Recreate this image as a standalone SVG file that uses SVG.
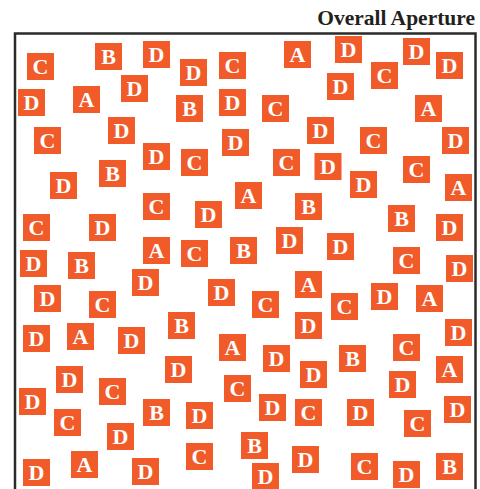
<svg xmlns="http://www.w3.org/2000/svg" width="480" height="489" viewBox="0 0 480 489">
<style>
.s rect{fill:#F15A29;width:27px;height:27px}
.s text{fill:#fff;font-family:"Liberation Serif","Times New Roman",serif;font-weight:bold;font-size:22px;text-anchor:middle}
.title{fill:#231F20;font-family:"Liberation Serif","Times New Roman",serif;font-weight:bold;font-size:21.5px;text-anchor:end}
</style>
<text class="title" x="475" y="25">Overall Aperture</text>
<path d="M15,489V33.5H475.5V489" fill="none" stroke="#2B2B2B" stroke-width="2.5"/>
<g class="s">
<g id="n1" transform="translate(27,53)"><rect width="27" height="27"/><text x="13.5" y="21">C</text></g>
<g id="n2" transform="translate(95,43)"><rect width="27" height="27"/><text x="13.5" y="21">B</text></g>
<g id="n3" transform="translate(143,41)"><rect width="27" height="27"/><text x="13.5" y="21">D</text></g>
<g id="n4" transform="translate(18,89)"><rect width="27" height="27"/><text x="13.5" y="21">D</text></g>
<g id="n5" transform="translate(73,86)"><rect width="27" height="27"/><text x="13.5" y="21">A</text></g>
<g id="n6" transform="translate(121,75)"><rect width="27" height="27"/><text x="13.5" y="21">D</text></g>
<g id="n7" transform="translate(108,117)"><rect width="27" height="27"/><text x="13.5" y="21">D</text></g>
<g id="n8" transform="translate(180,59)"><rect width="27" height="27"/><text x="13.5" y="21">D</text></g>
<g id="n9" transform="translate(219,52)"><rect width="27" height="27"/><text x="13.5" y="21">C</text></g>
<g id="n10" transform="translate(284,41)"><rect width="27" height="27"/><text x="13.5" y="21">A</text></g>
<g id="n11" transform="translate(176,95)"><rect width="27" height="27"/><text x="13.5" y="21">B</text></g>
<g id="n12" transform="translate(219,89)"><rect width="27" height="27"/><text x="13.5" y="21">D</text></g>
<g id="n13" transform="translate(262,95)"><rect width="27" height="27"/><text x="13.5" y="21">C</text></g>
<g id="n14" transform="translate(307,117)"><rect width="27" height="27"/><text x="13.5" y="21">D</text></g>
<g id="n15" transform="translate(335,36)"><rect width="27" height="27"/><text x="13.5" y="21">D</text></g>
<g id="n16" transform="translate(403,38)"><rect width="27" height="27"/><text x="13.5" y="21">D</text></g>
<g id="n17" transform="translate(436,52)"><rect width="27" height="27"/><text x="13.5" y="21">D</text></g>
<g id="n18" transform="translate(371,62)"><rect width="27" height="27"/><text x="13.5" y="21">C</text></g>
<g id="n19" transform="translate(327,73)"><rect width="27" height="27"/><text x="13.5" y="21">D</text></g>
<g id="n20" transform="translate(415,95)"><rect width="27" height="27"/><text x="13.5" y="21">A</text></g>
<g id="n21" transform="translate(34,127)"><rect width="27" height="27"/><text x="13.5" y="21">C</text></g>
<g id="n22" transform="translate(143,143)"><rect width="27" height="27"/><text x="13.5" y="21">D</text></g>
<g id="n23" transform="translate(50,172)"><rect width="27" height="27"/><text x="13.5" y="21">D</text></g>
<g id="n24" transform="translate(99,160)"><rect width="27" height="27"/><text x="13.5" y="21">B</text></g>
<g id="n25" transform="translate(143,193)"><rect width="27" height="27"/><text x="13.5" y="21">C</text></g>
<g id="n26" transform="translate(23,214)"><rect width="27" height="27"/><text x="13.5" y="21">C</text></g>
<g id="n27" transform="translate(89,214)"><rect width="27" height="27"/><text x="13.5" y="21">D</text></g>
<g id="n28" transform="translate(143,237)"><rect width="27" height="27"/><text x="13.5" y="21">A</text></g>
<g id="n29" transform="translate(222,129)"><rect width="27" height="27"/><text x="13.5" y="21">D</text></g>
<g id="n30" transform="translate(181,149)"><rect width="27" height="27"/><text x="13.5" y="21">C</text></g>
<g id="n31" transform="translate(273,149)"><rect width="27" height="27"/><text x="13.5" y="21">C</text></g>
<g id="n32" transform="translate(314.5,153)"><rect width="27" height="27"/><text x="13.5" y="21">D</text></g>
<g id="n33" transform="translate(235,182)"><rect width="27" height="27"/><text x="13.5" y="21">A</text></g>
<g id="n34" transform="translate(295,193)"><rect width="27" height="27"/><text x="13.5" y="21">B</text></g>
<g id="n35" transform="translate(195,201)"><rect width="27" height="27"/><text x="13.5" y="21">D</text></g>
<g id="n36" transform="translate(181,240)"><rect width="27" height="27"/><text x="13.5" y="21">C</text></g>
<g id="n37" transform="translate(230,237)"><rect width="27" height="27"/><text x="13.5" y="21">B</text></g>
<g id="n38" transform="translate(276,227)"><rect width="27" height="27"/><text x="13.5" y="21">D</text></g>
<g id="n39" transform="translate(360,127)"><rect width="27" height="27"/><text x="13.5" y="21">C</text></g>
<g id="n40" transform="translate(442,127)"><rect width="27" height="27"/><text x="13.5" y="21">D</text></g>
<g id="n41" transform="translate(403,156)"><rect width="27" height="27"/><text x="13.5" y="21">C</text></g>
<g id="n42" transform="translate(350,171)"><rect width="27" height="27"/><text x="13.5" y="21">D</text></g>
<g id="n43" transform="translate(445,174)"><rect width="27" height="27"/><text x="13.5" y="21">A</text></g>
<g id="n44" transform="translate(388,205)"><rect width="27" height="27"/><text x="13.5" y="21">B</text></g>
<g id="n45" transform="translate(436,214)"><rect width="27" height="27"/><text x="13.5" y="21">D</text></g>
<g id="n46" transform="translate(327,233)"><rect width="27" height="27"/><text x="13.5" y="21">D</text></g>
<g id="n47" transform="translate(20,250)"><rect width="27" height="27"/><text x="13.5" y="21">D</text></g>
<g id="n48" transform="translate(68,252)"><rect width="27" height="27"/><text x="13.5" y="21">B</text></g>
<g id="n49" transform="translate(132,269)"><rect width="27" height="27"/><text x="13.5" y="21">D</text></g>
<g id="n50" transform="translate(34,285)"><rect width="27" height="27"/><text x="13.5" y="21">D</text></g>
<g id="n51" transform="translate(89,291)"><rect width="27" height="27"/><text x="13.5" y="21">C</text></g>
<g id="n52" transform="translate(23,325)"><rect width="27" height="27"/><text x="13.5" y="21">D</text></g>
<g id="n53" transform="translate(67,323)"><rect width="27" height="27"/><text x="13.5" y="21">A</text></g>
<g id="n54" transform="translate(118,327)"><rect width="27" height="27"/><text x="13.5" y="21">D</text></g>
<g id="n55" transform="translate(208,279)"><rect width="27" height="27"/><text x="13.5" y="21">D</text></g>
<g id="n56" transform="translate(295,271)"><rect width="27" height="27"/><text x="13.5" y="21">A</text></g>
<g id="n57" transform="translate(252,291)"><rect width="27" height="27"/><text x="13.5" y="21">C</text></g>
<g id="n58" transform="translate(168,312)"><rect width="27" height="27"/><text x="13.5" y="21">B</text></g>
<g id="n59" transform="translate(295,312)"><rect width="27" height="27"/><text x="13.5" y="21">D</text></g>
<g id="n60" transform="translate(219,334)"><rect width="27" height="27"/><text x="13.5" y="21">A</text></g>
<g id="n61" transform="translate(263,345)"><rect width="27" height="27"/><text x="13.5" y="21">D</text></g>
<g id="n62" transform="translate(165,356)"><rect width="27" height="27"/><text x="13.5" y="21">D</text></g>
<g id="n63" transform="translate(300,361)"><rect width="27" height="27"/><text x="13.5" y="21">D</text></g>
<g id="n64" transform="translate(393,247)"><rect width="27" height="27"/><text x="13.5" y="21">C</text></g>
<g id="n65" transform="translate(446,255)"><rect width="27" height="27"/><text x="13.5" y="21">D</text></g>
<g id="n66" transform="translate(371,283)"><rect width="27" height="27"/><text x="13.5" y="21">D</text></g>
<g id="n67" transform="translate(416,285)"><rect width="27" height="27"/><text x="13.5" y="21">A</text></g>
<g id="n68" transform="translate(331,293)"><rect width="27" height="27"/><text x="13.5" y="21">C</text></g>
<g id="n69" transform="translate(445,319)"><rect width="27" height="27"/><text x="13.5" y="21">D</text></g>
<g id="n70" transform="translate(393,334)"><rect width="27" height="27"/><text x="13.5" y="21">C</text></g>
<g id="n71" transform="translate(339,345)"><rect width="27" height="27"/><text x="13.5" y="21">B</text></g>
<g id="n72" transform="translate(436,356)"><rect width="27" height="27"/><text x="13.5" y="21">A</text></g>
<g id="n73" transform="translate(56,366)"><rect width="27" height="27"/><text x="13.5" y="21">D</text></g>
<g id="n74" transform="translate(99,378)"><rect width="27" height="27"/><text x="13.5" y="21">C</text></g>
<g id="n75" transform="translate(19,388)"><rect width="27" height="27"/><text x="13.5" y="21">D</text></g>
<g id="n76" transform="translate(143,399)"><rect width="27" height="27"/><text x="13.5" y="21">B</text></g>
<g id="n77" transform="translate(54,409)"><rect width="27" height="27"/><text x="13.5" y="21">C</text></g>
<g id="n78" transform="translate(107,423)"><rect width="27" height="27"/><text x="13.5" y="21">D</text></g>
<g id="n79" transform="translate(71,451)"><rect width="27" height="27"/><text x="13.5" y="21">A</text></g>
<g id="n80" transform="translate(23,459)"><rect width="27" height="27"/><text x="13.5" y="21">D</text></g>
<g id="n81" transform="translate(132,458)"><rect width="27" height="27"/><text x="13.5" y="21">D</text></g>
<g id="n82" transform="translate(224,375)"><rect width="27" height="27"/><text x="13.5" y="21">C</text></g>
<g id="n83" transform="translate(259,394)"><rect width="27" height="27"/><text x="13.5" y="21">D</text></g>
<g id="n84" transform="translate(295,399)"><rect width="27" height="27"/><text x="13.5" y="21">C</text></g>
<g id="n85" transform="translate(186,402)"><rect width="27" height="27"/><text x="13.5" y="21">D</text></g>
<g id="n86" transform="translate(186,443)"><rect width="27" height="27"/><text x="13.5" y="21">C</text></g>
<g id="n87" transform="translate(241,432)"><rect width="27" height="27"/><text x="13.5" y="21">B</text></g>
<g id="n88" transform="translate(252,463)"><rect width="27" height="27"/><text x="13.5" y="21">D</text></g>
<g id="n89" transform="translate(292,446)"><rect width="27" height="27"/><text x="13.5" y="21">D</text></g>
<g id="n90" transform="translate(389,371)"><rect width="27" height="27"/><text x="13.5" y="21">D</text></g>
<g id="n91" transform="translate(347,399)"><rect width="27" height="27"/><text x="13.5" y="21">D</text></g>
<g id="n92" transform="translate(444,396)"><rect width="27" height="27"/><text x="13.5" y="21">D</text></g>
<g id="n93" transform="translate(404,410)"><rect width="27" height="27"/><text x="13.5" y="21">C</text></g>
<g id="n94" transform="translate(351,453)"><rect width="27" height="27"/><text x="13.5" y="21">C</text></g>
<g id="n95" transform="translate(393,461)"><rect width="27" height="27"/><text x="13.5" y="21">D</text></g>
<g id="n96" transform="translate(436,453)"><rect width="27" height="27"/><text x="13.5" y="21">B</text></g>
</g>
</svg>
